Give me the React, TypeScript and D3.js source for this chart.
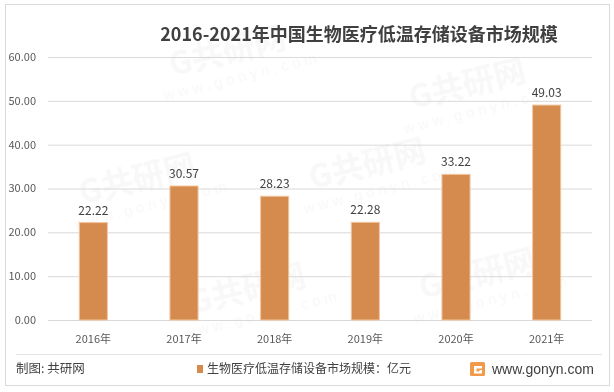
import React from 'react'
import * as d3 from 'd3';

const years = ['2016年', '2017年', '2018年', '2019年', '2020年', '2021年'];
const values = [22.22, 30.57, 28.23, 22.28, 33.22, 49.03];
const yTicks = [0, 10, 20, 30, 40, 50, 60];
const title = '2016-2021年中国生物医疗低温存储设备市场规模';
const legendLabel = '生物医疗低温存储设备市场规模：亿元';
const source = '制图: 共研网';
const site = 'www.gonyn.com';

const cjk = '"Noto Sans CJK SC", "Noto Sans", sans-serif';

// faint watermark tiles
const marks = [[230, 62], [470, 95], [140, 190], [370, 175], [250, 300], [480, 285]];

const App = () => {
  const W = 614, H = 392;
  const left = 48, right = 592, top = 57, bottom = 320;

  const x = d3.scaleBand<string>()
    .domain(years)
    .range([left, right])
    .paddingInner(0.69)
    .paddingOuter(0.345);

  const y = d3.scaleLinear()
    .domain([0, 60])
    .range([bottom, top]);

  return (
    <svg width={W} height={H} style={{ position: 'absolute', left: 0, top: 0, background: '#fff' }}>
      <rect x={0} y={0} width={W} height={H} fill='#fff' />
      <rect x={5.5} y={4.5} width={604} height={381} fill='none' stroke='#d9d9d9' />

      <g opacity={0.5}>
        {marks.map(([mx, my], i) =>
          <g key={i} transform={`translate(${mx},${my}) rotate(-14)`}>
            <text x={0} y={0} textAnchor='middle' fontFamily={cjk} fontWeight={700} fontSize={32} fill='#f0f0f0'>G共研网</text>
            <text x={8} y={22} textAnchor='middle' fontFamily='"Liberation Sans", sans-serif' fontSize={15} letterSpacing={4} fill='#f0f0f0'>www.gonyn.com</text>
          </g>
        )}
      </g>

      <text x={359} y={35} dy='0.35em' textAnchor='middle' fontFamily={cjk} fontWeight={700} fontSize={18} fill='#404040'>{title}</text>

      <g>
        {yTicks.map(t =>
          <g key={t}>
            <line x1={left} x2={right} y1={y(t) + 0.5} y2={y(t) + 0.5} stroke='#d9d9d9' />
            <text x={36} y={y(t)} dy='0.35em' textAnchor='end' fontFamily={cjk} fontSize={11} fill='#595959'>{t.toFixed(2)}</text>
          </g>
        )}
      </g>

      <g>
        {values.map((v, i) =>
          <g key={years[i]}>
            <rect x={x(years[i])} y={y(v)} width={x.bandwidth()} height={bottom - y(v)} fill='#D68B4E' stroke='#F2C49C' strokeWidth={1} />
            <text x={(x(years[i]) as number) + x.bandwidth() / 2} y={y(v) - 8} textAnchor='middle' fontFamily={cjk} fontSize={12} fill='#404040'>{v.toFixed(2)}</text>
            <text x={(x(years[i]) as number) + x.bandwidth() / 2} y={339} dy='0.35em' textAnchor='middle' fontFamily={cjk} fontSize={11} fill='#595959'>{years[i]}</text>
          </g>
        )}
      </g>

      <line x1={16} x2={602} y1={354.5} y2={354.5} stroke='#e3e3e3' />

      <text x={16} y={369} dy='0.35em' fontFamily={cjk} fontSize={12.5} fill='#404040'>{source}</text>

      <rect x={197} y={365} width={6} height={8} fill='#D68B4E' />
      <text x={207} y={369} dy='0.35em' fontFamily={cjk} fontSize={12} fill='#404040'>{legendLabel}</text>

      <g transform='translate(470,362)'>
        <rect x={0} y={0} width={15} height={14} rx={1.5} fill='#F39A4A' />
        <path d='M4 4 H12 V6.5 H6.5 V9.5 H9.5 V8 H12 V11.5 H4 Z' fill='#fff' />
      </g>
      <text x={492} y={369} dy='0.35em' fontFamily='"Liberation Sans", Arial, sans-serif' fontSize={14} fill='#404040'>{site}</text>
    </svg>
  )
}

export default App
